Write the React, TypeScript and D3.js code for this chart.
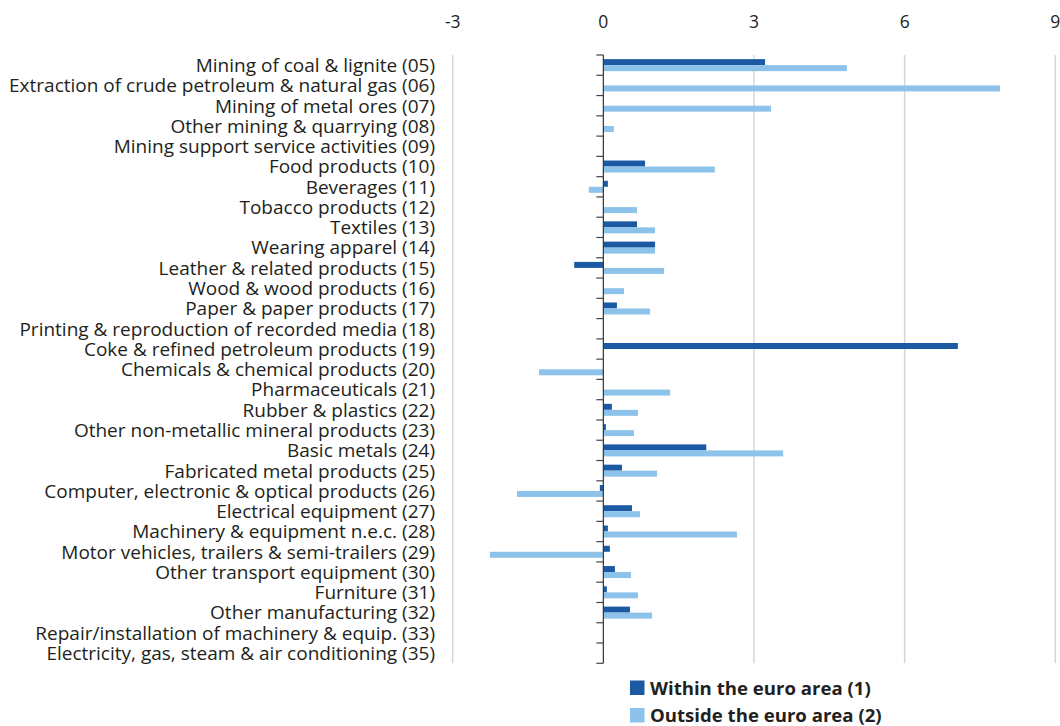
import React from "react";
import * as d3 from "d3";

const categories = [
  "Mining of coal & lignite (05)",
  "Extraction of crude petroleum & natural gas (06)",
  "Mining of metal ores (07)",
  "Other mining & quarrying (08)",
  "Mining support service activities (09)",
  "Food products (10)",
  "Beverages (11)",
  "Tobacco products (12)",
  "Textiles (13)",
  "Wearing apparel (14)",
  "Leather & related products (15)",
  "Wood & wood products (16)",
  "Paper & paper products (17)",
  "Printing & reproduction of recorded media (18)",
  "Coke & refined petroleum products (19)",
  "Chemicals & chemical products (20)",
  "Pharmaceuticals (21)",
  "Rubber & plastics (22)",
  "Other non-metallic mineral products (23)",
  "Basic metals (24)",
  "Fabricated metal products (25)",
  "Computer, electronic & optical products (26)",
  "Electrical equipment (27)",
  "Machinery & equipment n.e.c. (28)",
  "Motor vehicles, trailers & semi-trailers (29)",
  "Other transport equipment (30)",
  "Furniture (31)",
  "Other manufacturing (32)",
  "Repair/installation of machinery & equip. (33)",
  "Electricity, gas, steam & air conditioning (35)",
];

const withinEuro: (number | null)[] = [
  3.22, null, null, null, null, 0.83, 0.09, null, 0.67, 1.03,
  -0.58, null, 0.27, null, 7.06, null, null, 0.17, 0.05, 2.05,
  0.37, -0.07, 0.57, 0.09, 0.13, 0.23, 0.07, 0.53, null, null,
];

const outsideEuro: (number | null)[] = [
  4.85, 7.9, 3.34, 0.21, null, 2.22, -0.29, 0.67, 1.03, 1.03,
  1.21, 0.41, 0.93, null, null, -1.28, 1.33, 0.69, 0.61, 3.58,
  1.07, -1.72, 0.73, 2.66, -2.26, 0.55, 0.69, 0.97, null, null,
];

const xTicks = [-3, 0, 3, 6, 9];
const seriesNames = ["Within the euro area (1)", "Outside the euro area (2)"];
const colors = ["#1B5AA3", "#8DC3EA"];

const FONT = "'Open Sans', 'Noto Sans', sans-serif";

export default function App() {
  const width = 1060;
  const height = 726;
  const x = d3.scaleLinear().domain([-3, 9]).range([452.7, 1055.3]);
  const y = d3
    .scaleBand<string>()
    .domain(categories)
    .range([55, 663.3])
    .paddingInner(0)
    .paddingOuter(0);
  const barH = 6;
  const x0 = x(0);

  return (
    <svg
      width={width}
      height={height}
      style={{ position: "absolute", left: 0, top: 0 }}
      fontFamily={FONT}
    >
      {/* gridlines */}
      {xTicks
        .filter((t) => t !== 0)
        .map((t) => (
          <line
            key={"g" + t}
            x1={x(t)}
            x2={x(t)}
            y1={55}
            y2={663.3}
            stroke="#d6d6d6"
            strokeWidth={1.5}
          />
        ))}
      {/* tick labels */}
      {xTicks.map((t) => (
        <text
          key={"t" + t}
          x={x(t)}
          y={28}
          textAnchor="middle"
          fontSize={17.5}
          fill="#231f20"
        >
          {t}
        </text>
      ))}
      {/* bars */}
      {categories.map((c, i) => {
        const cy = (y(c) as number) + y.bandwidth() / 2;
        const a = withinEuro[i];
        const b = outsideEuro[i];
        return (
          <g key={"b" + i}>
            {a !== null && (
              <rect
                x={Math.min(x(a), x0)}
                y={cy - barH}
                width={Math.abs(x(a) - x0)}
                height={barH}
                fill={colors[0]}
              />
            )}
            {b !== null && (
              <rect
                x={Math.min(x(b), x0)}
                y={cy}
                width={Math.abs(x(b) - x0)}
                height={barH}
                fill={colors[1]}
              />
            )}
          </g>
        );
      })}
      {/* axis */}
      <line x1={x0} x2={x0} y1={55} y2={663.3} stroke="#333" strokeWidth={1.2} />
      {d3.range(categories.length + 1).map((i) => {
        const yy = 55 + i * y.step();
        return (
          <line
            key={"k" + i}
            x1={x0 - 7}
            x2={x0}
            y1={yy}
            y2={yy}
            stroke="#444"
            strokeWidth={1.2}
          />
        );
      })}
      {/* category labels */}
      {categories.map((c) => (
        <text
          key={"l" + c}
          x={435}
          y={(y(c) as number) + y.bandwidth() / 2}
          dy="0.36em"
          textAnchor="end"
          fontSize={19}
          fill="#231f20"
        >
          {c}
        </text>
      ))}
      {/* legend */}
      {seriesNames.map((s, i) => (
        <g key={"lg" + i} transform={`translate(630, ${680.5 + i * 27.5})`}>
          <rect x={0} y={0} width={14.5} height={14.5} fill={colors[i]} />
          <text
            x={20}
            y={7.5}
            dy="0.36em"
            fontSize={18.6}
            fontWeight="bold"
            fill="#231f20"
          >
            {s}
          </text>
        </g>
      ))}
    </svg>
  );
}
